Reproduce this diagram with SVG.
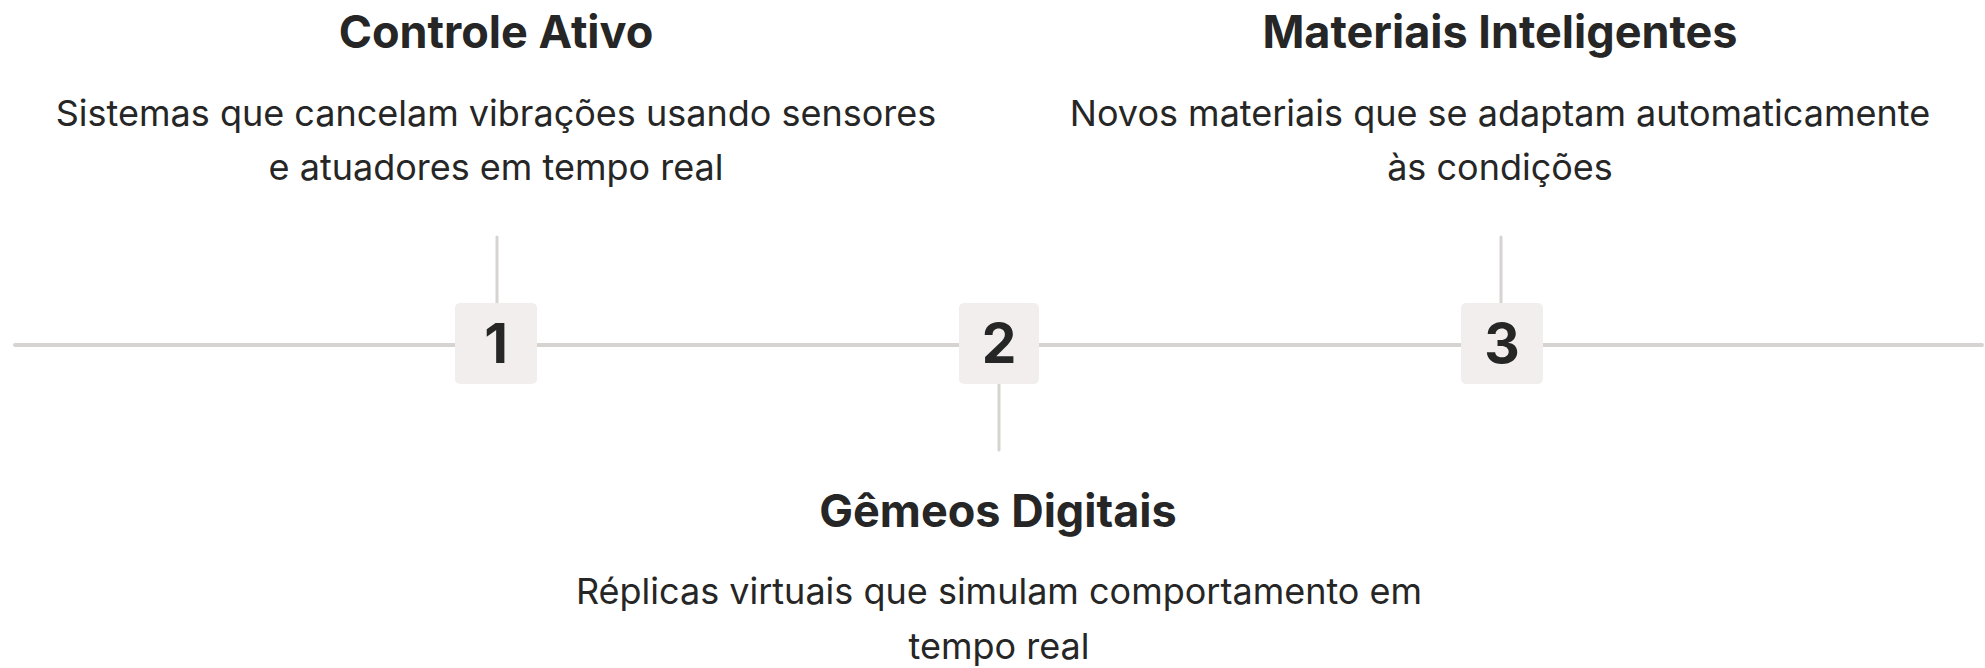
<svg xmlns="http://www.w3.org/2000/svg" width="1985" height="668" viewBox="0 0 1985 668">
<style>
.title{font-family:Inter,"Noto Sans",sans-serif;font-weight:700;font-size:45px;fill:#262626;text-anchor:middle}
.desc{font-family:Inter,"Noto Sans",sans-serif;font-weight:400;font-size:36px;fill:#262626;text-anchor:middle}
.num{font-family:Inter,"Noto Sans",sans-serif;font-weight:700;font-size:55px;fill:#262626;text-anchor:middle}
.box{fill:#f1eeed}
.ln{stroke:#d6d3d1;stroke-linecap:round;fill:none}
</style>
<rect width="1985" height="668" fill="#ffffff"/>
<g id="connectors">
<line class="ln" x1="15" y1="345" x2="1982" y2="345" stroke-width="4"/>
<line class="ln" x1="497" y1="237" x2="497" y2="304" stroke-width="3"/>
<line class="ln" x1="999" y1="384" x2="999" y2="450" stroke-width="3"/>
<line class="ln" x1="1501" y1="237" x2="1501" y2="304" stroke-width="3"/>
</g>
<g id="node1">
<rect class="box" x="455" y="303" width="82" height="81" rx="5"/>
<text class="num" x="496" y="363">1</text>
<text class="title" x="496" y="48">Controle Ativo</text>
<text class="desc" x="496" y="126">Sistemas que cancelam vibrações usando sensores</text>
<text class="desc" x="496" y="180">e atuadores em tempo real</text>
</g>
<g id="node2">
<rect class="box" x="959" y="303" width="80" height="81" rx="5"/>
<text class="num" x="999" y="363">2</text>
<text class="title" x="998" y="527">Gêmeos Digitais</text>
<text class="desc" x="999" y="604">Réplicas virtuais que simulam comportamento em</text>
<text class="desc" x="999" y="659">tempo real</text>
</g>
<g id="node3">
<rect class="box" x="1461" y="303" width="82" height="81" rx="5"/>
<text class="num" x="1502" y="363">3</text>
<text class="title" x="1500" y="48">Materiais Inteligentes</text>
<text class="desc" x="1500" y="126">Novos materiais que se adaptam automaticamente</text>
<text class="desc" x="1500" y="180">às condições</text>
</g>
</svg>
